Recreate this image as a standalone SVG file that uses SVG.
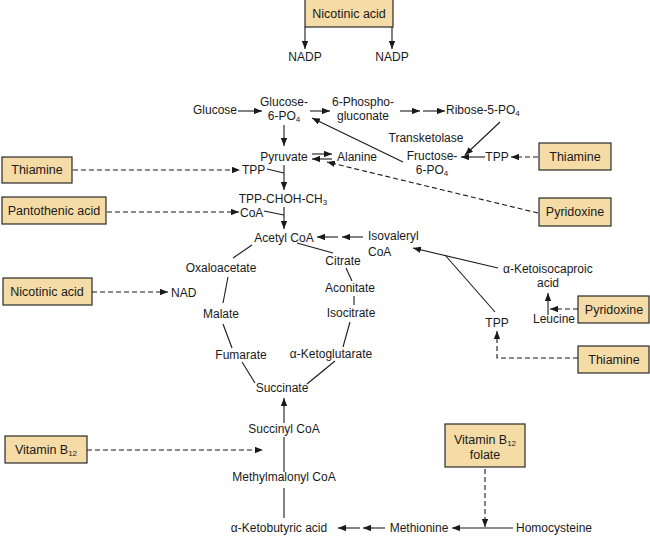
<svg xmlns="http://www.w3.org/2000/svg" width="650" height="536" viewBox="0 0 650 536">
<style>
text{font-family:"Liberation Sans",Arial,sans-serif;font-size:12px;fill:#1a1a1a}
.m{text-anchor:middle}
.bt{font-size:12.5px}
.box{fill:#F5DBA6;stroke:#2a2a2a;stroke-width:1.2}
.c line,.c polyline{stroke:#1a1a1a;stroke-width:1.1;fill:none}
.c .d{stroke-dasharray:5 3}
.sub{font-size:8px}
</style>
<defs>
<marker id="a" viewBox="0 0 10 8" refX="10" refY="4" markerWidth="8" markerHeight="6.4" markerUnits="userSpaceOnUse" orient="auto">
<path d="M0,0 L10,4 L0,8 Z" fill="#1a1a1a"/>
</marker>
</defs>
<rect width="650" height="536" fill="#fff"/>

<g id="nicotinic-top"><rect class="box" x="305" y="-1" width="88" height="28"/><text class="m bt" x="349" y="18">Nicotinic acid</text></g>
<g id="thiamine-left"><rect class="box" x="2" y="157" width="70" height="26"/><text class="m bt" x="37" y="174">Thiamine</text></g>
<g id="pantothenic"><rect class="box" x="2" y="197" width="104" height="27"/><text class="m bt" x="54" y="215">Pantothenic acid</text></g>
<g id="nicotinic-left"><rect class="box" x="3" y="278" width="89" height="27"/><text class="m bt" x="47" y="296">Nicotinic acid</text></g>
<g id="b12-left"><rect class="box" x="5" y="436" width="82" height="27"/><text class="m bt" x="46" y="454">Vitamin B<tspan class="sub" dy="2">12</tspan></text></g>
<g id="thiamine-r1"><rect class="box" x="539" y="143" width="72" height="27"/><text class="m bt" x="575" y="161">Thiamine</text></g>
<g id="pyridoxine-r1"><rect class="box" x="539" y="198" width="72" height="28"/><text class="m bt" x="575" y="216">Pyridoxine</text></g>
<g id="pyridoxine-r2"><rect class="box" x="578" y="296" width="71" height="27"/><text class="m bt" x="614" y="314">Pyridoxine</text></g>
<g id="thiamine-r2"><rect class="box" x="578" y="346" width="71" height="27"/><text class="m bt" x="614" y="364">Thiamine</text></g>
<g id="b12-folate"><rect class="box" x="445" y="424" width="80" height="43"/><text class="m bt" x="485" y="444">Vitamin B<tspan class="sub" dy="2">12</tspan></text><text class="m bt" x="485" y="459">folate</text></g>

<g id="nadp1"><text class="m" x="305" y="61">NADP</text></g>
<g id="nadp2"><text class="m" x="392" y="61">NADP</text></g>
<g id="glucose"><text class="m" x="215" y="114">Glucose</text></g>
<g id="g6p"><text class="m" x="284" y="106">Glucose-</text><text class="m" x="284" y="120">6-PO<tspan class="sub" dy="2">4</tspan></text></g>
<g id="6pg"><text class="m" x="363" y="106">6-Phospho-</text><text class="m" x="363" y="120">gluconate</text></g>
<g id="r5p"><text x="446" y="114">Ribose-5-PO<tspan class="sub" dy="2">4</tspan></text></g>
<g id="transketolase"><text class="m" x="426" y="142">Transketolase</text></g>
<g id="f6p"><text class="m" x="432" y="160">Fructose-</text><text class="m" x="432" y="174">6-PO<tspan class="sub" dy="2">4</tspan></text></g>
<g id="tpp-r1"><text class="m" x="497" y="161">TPP</text></g>
<g id="pyruvate"><text class="m" x="284" y="161">Pyruvate</text></g>
<g id="alanine"><text x="337" y="161">Alanine</text></g>
<g id="tpp-l"><text x="242" y="174">TPP</text></g>
<g id="tppchoh"><text class="m" x="283" y="203">TPP-CHOH-CH<tspan class="sub" dy="2">3</tspan></text></g>
<g id="coa"><text x="240" y="217">CoA</text></g>
<g id="acetylcoa"><text class="m" x="284" y="242">Acetyl CoA</text></g>
<g id="isovaleryl"><text x="368" y="240">Isovaleryl</text><text x="368" y="256">CoA</text></g>
<g id="citrate"><text class="m" x="343" y="265">Citrate</text></g>
<g id="oxaloacetate"><text class="m" x="221" y="272">Oxaloacetate</text></g>
<g id="nad"><text x="171" y="297">NAD</text></g>
<g id="aconitate"><text class="m" x="350" y="292">Aconitate</text></g>
<g id="malate"><text class="m" x="221" y="318">Malate</text></g>
<g id="isocitrate"><text class="m" x="351" y="317">Isocitrate</text></g>
<g id="fumarate"><text class="m" x="241" y="359">Fumarate</text></g>
<g id="akg"><text class="m" x="331" y="358">α-Ketoglutarate</text></g>
<g id="succinate"><text class="m" x="282" y="392">Succinate</text></g>
<g id="akic"><text x="503" y="273">α-Ketoisocaproic</text><text class="m" x="548" y="287">acid</text></g>
<g id="leucine"><text class="m" x="554" y="323">Leucine</text></g>
<g id="tpp-r2"><text class="m" x="497" y="327">TPP</text></g>
<g id="succinylcoa"><text class="m" x="284" y="433">Succinyl CoA</text></g>
<g id="methylmalonyl"><text class="m" x="284" y="481">Methylmalonyl CoA</text></g>
<g id="akb"><text class="m" x="279" y="532">α-Ketobutyric acid</text></g>
<g id="methionine"><text class="m" x="419" y="532">Methionine</text></g>
<g id="homocysteine"><text class="m" x="554" y="532">Homocysteine</text></g>

<g id="connectors" class="c">
<line x1="305" y1="27" x2="305" y2="49" marker-end="url(#a)"/>
<line x1="392" y1="27" x2="392" y2="49" marker-end="url(#a)"/>
<line x1="238" y1="111" x2="262" y2="111" marker-end="url(#a)"/>
<line x1="310" y1="111" x2="330" y2="111" marker-end="url(#a)"/>
<line x1="400" y1="111" x2="420" y2="111" marker-end="url(#a)"/>
<line x1="423" y1="111" x2="445" y2="111" marker-end="url(#a)"/>
<line x1="500" y1="122" x2="465" y2="155" marker-end="url(#a)"/>
<line x1="485" y1="157" x2="461" y2="157" marker-end="url(#a)"/>
<line class="d" x1="538" y1="157" x2="511" y2="157" marker-end="url(#a)"/>
<line x1="403" y1="162" x2="312" y2="118" marker-end="url(#a)"/>
<line x1="284" y1="125" x2="284" y2="146" marker-end="url(#a)"/>
<line x1="312" y1="154" x2="332" y2="154" marker-end="url(#a)"/>
<line x1="332" y1="159" x2="312" y2="159" marker-end="url(#a)"/>
<line class="d" x1="538" y1="213" x2="327" y2="162" marker-end="url(#a)"/>
<line class="d" x1="73" y1="170" x2="240" y2="170" marker-end="url(#a)"/>
<line x1="267" y1="169" x2="284" y2="173"/>
<line x1="284" y1="165" x2="284" y2="190" marker-end="url(#a)"/>
<line class="d" x1="107" y1="212" x2="239" y2="212" marker-end="url(#a)"/>
<line x1="264" y1="211" x2="284" y2="215"/>
<line x1="284" y1="207" x2="284" y2="229" marker-end="url(#a)"/>
<line x1="338" y1="237" x2="317" y2="237" marker-end="url(#a)"/>
<line x1="363" y1="237" x2="342" y2="237" marker-end="url(#a)"/>
<line x1="297" y1="243" x2="333" y2="253"/>
<line x1="252" y1="245" x2="233" y2="258"/>
<line x1="228" y1="277" x2="223" y2="303"/>
<line x1="223" y1="324" x2="232" y2="348"/>
<line x1="242" y1="362" x2="255" y2="383"/>
<line x1="307" y1="384" x2="335" y2="361"/>
<line x1="343" y1="347" x2="350" y2="322"/>
<line x1="354" y1="296" x2="354" y2="305"/>
<line x1="352" y1="281" x2="346" y2="268"/>
<line class="d" x1="92" y1="292" x2="168" y2="292" marker-end="url(#a)"/>
<line x1="498" y1="268" x2="413" y2="248" marker-end="url(#a)"/>
<line x1="495" y1="312" x2="445" y2="255"/>
<polyline class="d" points="578,358 497,358 497,331" marker-end="url(#a)"/>
<line x1="548" y1="315" x2="548" y2="293" marker-end="url(#a)"/>
<line class="d" x1="578" y1="309" x2="550" y2="309" marker-end="url(#a)"/>
<line x1="284" y1="423" x2="284" y2="398" marker-end="url(#a)"/>
<line x1="284" y1="437" x2="284" y2="472"/>
<line x1="284" y1="488" x2="284" y2="518"/>
<line class="d" x1="87" y1="450" x2="263" y2="450" marker-end="url(#a)"/>
<line x1="513" y1="528" x2="452" y2="528" marker-end="url(#a)"/>
<line x1="385" y1="528" x2="363" y2="528" marker-end="url(#a)"/>
<line x1="360" y1="528" x2="338" y2="528" marker-end="url(#a)"/>
<line class="d" x1="485" y1="469" x2="485" y2="527" marker-end="url(#a)"/>
</g>
</svg>
